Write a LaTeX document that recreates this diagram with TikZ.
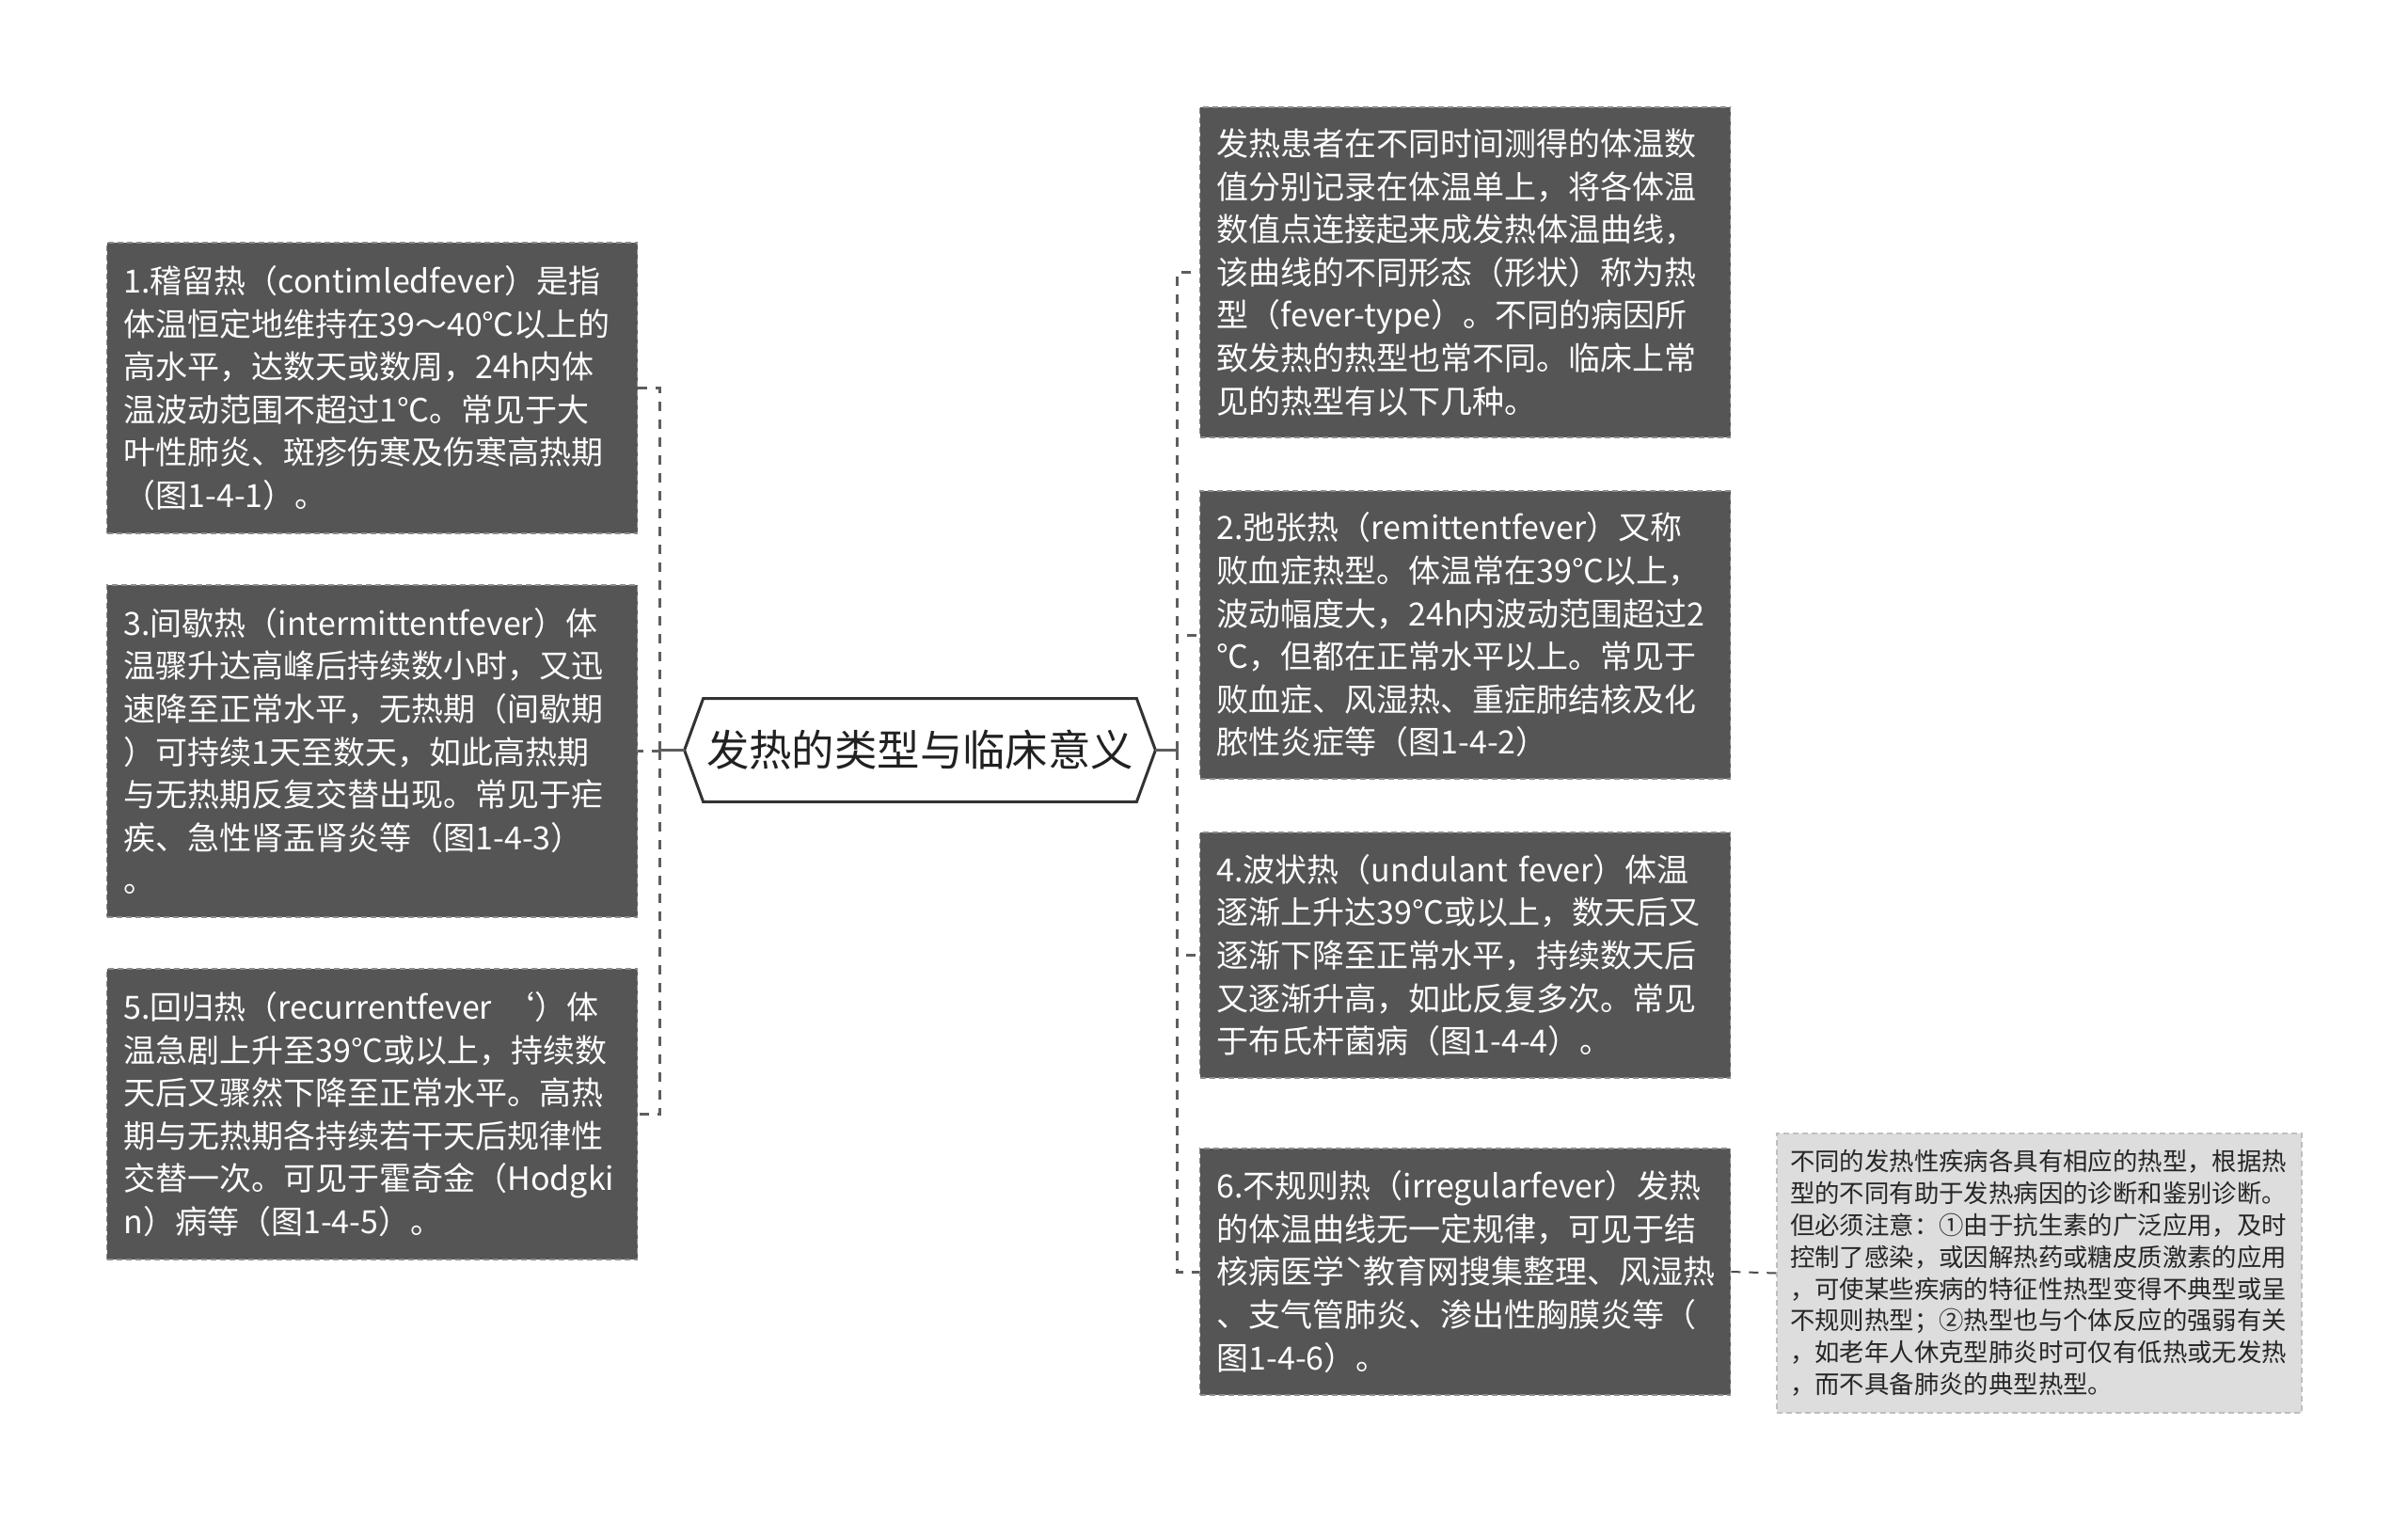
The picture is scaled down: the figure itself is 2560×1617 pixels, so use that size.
\documentclass[tikz,border=0pt]{standalone}
\usepackage{fontspec}
\setmainfont{Noto Sans CJK SC}
\definecolor{cardgray}{HTML}{555555}
\definecolor{cardedge}{HTML}{8C8C8C}
\definecolor{notegray}{HTML}{DDDDDD}
\definecolor{notetext}{HTML}{262626}
\definecolor{linkgray}{HTML}{5E5E5E}
\tikzset{
	card/.style={fill=cardgray, draw=cardedge, line width=0.8pt, dash pattern=on 3pt off 2pt, text=white, text width=264pt, align=left, inner xsep=9pt, inner ysep=0pt, font=\fontsize{17pt}{22.8pt}\selectfont},
	remark/.style={fill=notegray, draw=white!75!black, line width=0.8pt, dash pattern=on 3pt off 2pt, text=notetext, text width=265pt, align=left, inner xsep=7pt, inner ysep=0pt, font=\fontsize{13.2pt}{16.9pt}\selectfont},
	link/.style={draw=linkgray, line width=1.5pt, dash pattern=on 5pt off 4.5pt},
	stub/.style={draw=linkgray, line width=1.5pt},
}
\begin{document}
\begin{tikzpicture}[x=0.5pt, y=-0.5pt]
	\useasboundingbox (0,0) rectangle (2560,1617);
	\node (topic) [inner sep=0pt, minimum width=250pt, minimum height=54.5pt, text=black!87, font=\fontsize{22.7pt}{27pt}\selectfont] at (978,797.5) {发热的类型与临床意义};
	\draw [line width=1.5pt, draw=black!80] (topic.west) -- ([xshift=10pt]topic.north west) -- ([xshift=-10pt]topic.north east) -- (topic.east) -- ([xshift=-10pt]topic.south east) -- ([xshift=10pt]topic.south west) -- cycle;
	
	\node (kind1) [card, minimum height=154.5pt] at (395.5,412.5) {
		1.稽留热（contimledfever）是指\\
		体温恒定地维持在39～40℃以上的\\
		高水平，达数天或数周，24h内体\\
		温波动范围不超过1℃。常见于大\\
		叶性肺炎、斑疹伤寒及伤寒高热期\\
		（图1-4-1）。
	};
	\node (kind3) [card, minimum height=176.5pt] at (395.5,798.5) {
		3.间歇热（intermittentfever）体\\
		温骤升达高峰后持续数小时，又迅\\
		速降至正常水平，无热期（间歇期\\
		）可持续1天至数天，如此高热期\\
		与无热期反复交替出现。常见于疟\\
		疾、急性肾盂肾炎等（图1-4-3）\\
		。
	};
	\node (kind5) [card, minimum height=154.5pt] at (395.5,1184.5) {
		5.回归热（recurrentfever ‘）体\\
		温急剧上升至39°C或以上，持续数\\
		天后又骤然下降至正常水平。高热\\
		期与无热期各持续若干天后规律性\\
		交替一次。可见于霍奇金（Hodgki\\
		n）病等（图1-4-5）。
	};
	
	\node (intro) [card, minimum height=175.5pt] at (1557.5,289.5) {
		发热患者在不同时间测得的体温数\\
		值分别记录在体温单上，将各体温\\
		数值点连接起来成发热体温曲线，\\
		该曲线的不同形态（形状）称为热\\
		型（fever-type）。不同的病因所\\
		致发热的热型也常不同。临床上常\\
		见的热型有以下几种。
	};
	\node (kind2) [card, minimum height=153pt] at (1557.5,675) {
		2.弛张热（remittentfever）又称\\
		败血症热型。体温常在39℃以上，\\
		波动幅度大，24h内波动范围超过2\\
		℃，但都在正常水平以上。常见于\\
		败血症、风湿热、重症肺结核及化\\
		脓性炎症等（图1-4-2）
	};
	\node (kind4) [card, minimum height=130.5pt] at (1557.5,1015.5) {
		4.波状热（undulant fever）体温\\
		逐渐上升达39℃或以上，数天后又\\
		逐渐下降至正常水平，持续数天后\\
		又逐渐升高，如此反复多次。常见\\
		于布氏杆菌病（图1-4-4）。
	};
	\node (kind6) [card, minimum height=131pt] at (1557.5,1352) {
		6.不规则热（irregularfever）发热\\
		的体温曲线无一定规律，可见于结\\
		核病医学ˋ教育网搜集整理、风湿热\\
		、支气管肺炎、渗出性胸膜炎等（\\
		图1-4-6）。
	};
	\node (note) [remark, minimum height=148.5pt] at (2168,1353.5) {
		不同的发热性疾病各具有相应的热型，根据热\\
		型的不同有助于发热病因的诊断和鉴别诊断。\\
		但必须注意：①由于抗生素的广泛应用，及时\\
		控制了感染，或因解热药或糖皮质激素的应用\\
		，可使某些疾病的特征性热型变得不典型或呈\\
		不规则热型；②热型也与个体反应的强弱有关\\
		，如老年人休克型肺炎时可仅有低热或无发热\\
		，而不具备肺炎的典型热型。
	};
	
	\draw [stub] (topic.west) -- ++(-13pt,0);
	\foreach \kind in {kind1,kind3,kind5}
		\draw [link] (topic.west) ++(-13pt,0) |- (\kind.east);
	\draw [stub] (topic.east) -- ++(11.5pt,0);
	\foreach \kind in {intro,kind2,kind4,kind6}
		\draw [link] (topic.east) ++(11.5pt,0) |- (\kind.west);
	\draw [link, line width=1pt, draw=black!70] (kind6.east) -- (note.west);
\end{tikzpicture}
\end{document}
